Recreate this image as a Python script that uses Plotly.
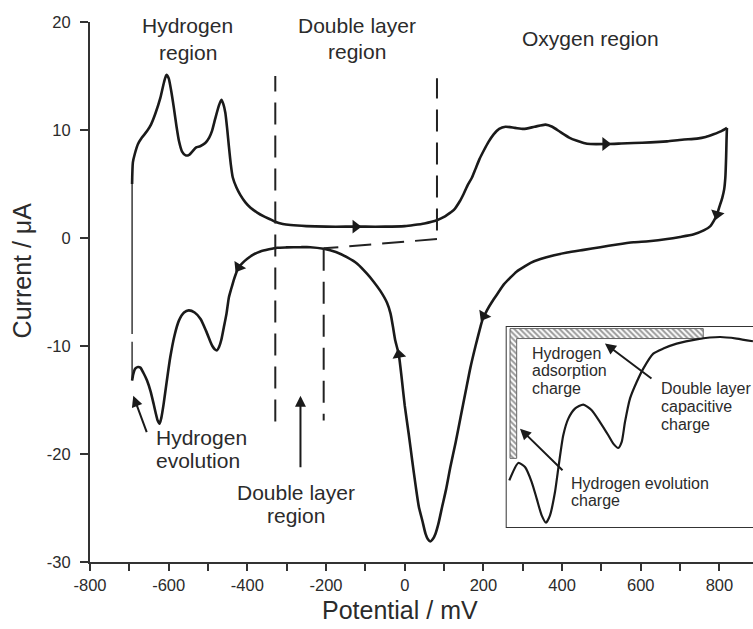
import plotly.graph_objects as go

# ---- Cyclic voltammogram of Pt (potential in mV, current in uA) ----
# anodic sweep: from the lower potential limit up to the upper limit
anodic_E = [-693, -691, -686, -678, -668, -655, -645, -634, -621, -612, -606, -600,
            -594, -587, -580, -574, -566, -557, -548, -540, -530, -520, -507, -497,
            -490, -482, -472, -466, -461, -456, -451, -447, -442, -437, -428, -418,
            -405, -392, -375, -358, -340, -329, -310, -290, -250, -200, -150, -100,
            -50, 0, 23, 50, 82, 100, 116, 125, 140, 150, 160, 171, 180, 190, 201, 213,
            226, 240, 256, 280, 302, 330, 358, 375, 396, 418, 438, 455, 472, 514, 550,
            582, 625, 667, 705, 743, 765, 785, 805, 819]
anodic_I = [5.0, 7.0, 7.8, 8.7, 9.3, 9.9, 10.5, 11.5, 13.0, 14.4, 15.1, 14.8,
            13.7, 12.1, 10.3, 9.0, 8.0, 7.65, 7.7, 8.0, 8.4, 8.5, 8.8, 9.3,
            9.9, 11.0, 12.3, 12.8, 12.4, 11.6, 10.0, 8.5, 6.8, 5.6, 4.7, 4.0,
            3.3, 2.8, 2.35, 2.0, 1.7, 1.5, 1.3, 1.2, 1.1, 1.05, 1.05, 1.05,
            1.05, 1.1, 1.2, 1.35, 1.65, 1.95, 2.35, 2.6, 3.4, 4.1, 4.9, 5.6, 6.4, 7.3, 8.1, 8.9,
            9.6, 10.1, 10.3, 10.2, 10.1, 10.3, 10.5, 10.3, 9.8, 9.3, 9.0, 8.8, 8.7, 8.7, 8.75,
            8.8, 8.85, 8.95, 9.1, 9.2, 9.35, 9.6, 9.9, 10.2]

# cathodic sweep: from the upper limit back down to the lower limit
cathodic_E = [819, 818, 817, 815, 812, 807, 800, 794, 786, 777, 760, 735, 700, 667,
              620, 582, 540, 497, 455, 413, 380, 345, 320, 302, 285, 269, 252, 235,
              222, 209, 197, 192, 180, 167, 155, 142, 129, 116, 105, 95, 86, 78, 71,
              65, 59, 53, 45, 36, 28, 19, 10, 0, -7, -15, -24, -30, -36, -45, -62,
              -80, -96, -120, -146, -175, -206, -240, -265, -300, -324, -345, -367,
              -385, -401, -412, -422, -430, -435, -441, -447, -453, -460, -466, -472,
              -477, -483, -489, -494, -505, -519, -534, -549, -561, -574, -585, -596,
              -605, -613, -619, -623, -628, -633, -638, -646, -655, -664, -672, -678,
              -685, -690, -693]
cathodic_I = [10.2, 9.0, 7.5, 5.6, 4.5, 3.7, 2.9, 2.2, 1.6, 1.1, 0.7, 0.35, 0.1, -0.1,
              -0.3, -0.4, -0.6, -0.85, -1.1, -1.35, -1.6, -1.95, -2.3, -2.7, -3.1, -3.65, -4.3, -5.2,
              -5.9, -6.7, -7.65, -8.3, -10.0, -12.0, -14.2, -16.6, -19.0, -21.2, -23.3, -24.9, -26.4, -27.4, -27.9,
              -28.1, -27.9, -27.4, -26.2, -24.9, -23.0, -20.6, -18.1, -15.5, -13.2, -10.8, -9.5, -8.2, -7.0, -6.0, -4.9,
              -4.0, -3.3, -2.4, -1.8, -1.3, -1.0, -0.85, -0.85, -0.87, -0.9, -1.05, -1.25,
              -1.55, -1.95, -2.3, -2.7, -3.4, -3.95, -4.7, -5.5, -7.0, -8.3, -9.4, -10.1,
              -10.4, -10.3, -10.0, -9.6, -8.6, -7.5, -6.9, -6.7, -6.9, -7.65, -9.0, -11.05,
              -13.3, -15.4, -16.7, -17.2, -16.9, -16.2, -15.4, -14.2, -13.2, -12.5, -12.0, -11.95,
              -12.1, -12.6, -13.2]

# potential step at the lower limit that closes the loop
limit_E = [-693, -693, None, -693, -693]
limit_I = [-13.2, -9.6, None, -8.9, 5.0]

# sweep-direction arrowheads along the curve
arrow_E = [-125, 510, 794, 201, -15, -422]
arrow_I = [1.05, 8.7, 2.2, -7.2, -10.8, -2.7]
arrow_angle = [90, 90, 195, 210, 350, 212]

# double-layer region boundaries and capacitive baseline
dl_start_E, dl_end_E, dl_base_E = -329, 82, -206
dl_line_I = [-17.0, 15.0]
dl_end_I = [0.7, 14.8]
baseline_E = [82, -206]
baseline_I = [-0.1, -0.96]
dl_base_I = [-1.0, -16.9]

# axis ticks
x_ticks = [-800, -600, -400, -200, 0, 200, 400, 600, 800]
y_ticks = [-30, -20, -10, 0, 10, 20]

# ---- inset: magnified hydrogen region of the cathodic sweep ----
inset_E = [-691, -673.7, -660.8, -647.9, -638.3, -628.7, -620.4, -612.7, -603.1,
           -596.8, -587.2, -577.5, -564.7, -548.7, -532.5, -516.6, -500.6, -491,
           -481.4, -474.8, -468.5, -458.9, -446, -433.3, -414.1, -394.8, -369.1,
           -330.6, -285.8, -253.7, -222.4]
inset_I = [-13.55, -11.97, -12.34, -13.70, -15.21, -16.73, -17.39, -16.73, -14.61,
           -12.48, -9.45, -7.94, -7.03, -6.66, -7.18, -8.25, -9.45, -10.21,
           -10.61, -10.06, -8.25, -6.12, -4.61, -3.39, -2.03, -1.57, -1.12,
           -0.73, -0.52, -0.66, -0.91]

# hatched charge areas (L-shaped: adsorption along the top, evolution along the side)
charge_E = [-689.6, -318, -318, -676.8, -676.8, -689.6, -689.6]
charge_I = [0.245, 0.245, -0.66, -0.66, -11.55, -11.55, 0.245]

FONT = "Arial, Liberation Sans, sans-serif"
INK = "#1a1a1a"
TXT = "#2b2b2b"


def tick_text(values):
    # plain hyphen-minus for negative numbers
    return [str(v) for v in values]


fig = go.Figure()

fig.add_trace(go.Scatter(x=limit_E, y=limit_I, mode="lines",
                         line=dict(color=INK, width=1.3), hoverinfo="skip"))
fig.add_trace(go.Scatter(x=anodic_E, y=anodic_I, mode="lines",
                         line=dict(color=INK, width=2.6, shape="spline", smoothing=0.6)))
fig.add_trace(go.Scatter(x=cathodic_E, y=cathodic_I, mode="lines",
                         line=dict(color=INK, width=2.6, shape="spline", smoothing=0.6)))
fig.add_trace(go.Scatter(x=arrow_E, y=arrow_I, mode="markers",
                         marker=dict(symbol="triangle-up", size=12, color=INK,
                                     angle=arrow_angle, line=dict(width=0))))

dash = dict(color="#222", width=2, dash="22px,11px")
fig.add_trace(go.Scatter(x=[dl_start_E, dl_start_E], y=dl_line_I, mode="lines", line=dash))
fig.add_trace(go.Scatter(x=[dl_end_E, dl_end_E], y=dl_end_I, mode="lines", line=dash))
fig.add_trace(go.Scatter(x=baseline_E, y=baseline_I, mode="lines", line=dash))
fig.add_trace(go.Scatter(x=[dl_base_E, dl_base_E], y=dl_base_I, mode="lines", line=dash))

# inset traces
fig.add_trace(go.Scatter(x=charge_E, y=charge_I, mode="lines", fill="toself",
                         xaxis="x2", yaxis="y2",
                         line=dict(color="#666", width=1),
                         fillcolor="white",
                         fillpattern=dict(shape="\\", fgcolor="#333", bgcolor="white",
                                          size=4, solidity=0.5)))
fig.add_trace(go.Scatter(x=inset_E, y=inset_I, mode="lines", xaxis="x2", yaxis="y2",
                         line=dict(color=INK, width=2.2, shape="spline", smoothing=0.6)))

# inset frame (double rule)
fig.add_shape(type="rect", xref="paper", yref="paper",
              x0=0.6285, x1=1.05, y0=0.0648, y1=0.4352,
              line=dict(color="#333", width=2), fillcolor="rgba(0,0,0,0)", layer="below")
fig.add_shape(type="rect", xref="paper", yref="paper",
              x0=0.6315, x1=1.05, y0=0.0685, y1=0.4315,
              line=dict(color="#888", width=1), fillcolor="rgba(0,0,0,0)", layer="below")


def label(lines, x, y, size, spacing, xanchor="center", xref="x", yref="y"):
    for i, t in enumerate(lines):
        fig.add_annotation(x=x, y=y, xref=xref, yref=yref, text=t, showarrow=False,
                           xanchor=xanchor, yanchor="middle", yshift=-i * spacing,
                           font=dict(family=FONT, size=size, color=TXT))


label(["Hydrogen", "region"], -552, 19.66, 21, 26.5)
label(["Double layer", "region"], -121.5, 19.66, 21, 25.5)
label(["Oxygen region"], 472, 18.45, 21, 0)
label(["Hydrogen", "evolution"], -638.6, -18.46, 21, 23.3, xanchor="left")
label(["Double layer", "region"], -275.5, -23.56, 21, 23.3)

label(["Hydrogen", "adsorption", "charge"], -651.2, -2.0, 16, 17.5,
      xanchor="left", xref="x2", yref="y2")
label(["Double layer", "capacitive", "charge"], -402.5, -5.18, 16, 18,
      xanchor="left", xref="x2", yref="y2")
label(["Hydrogen evolution", "charge"], -575.6, -13.8, 16, 17.3,
      xanchor="left", xref="x2", yref="y2")

arrow_style = dict(showarrow=True, arrowhead=2, arrowsize=1.1, arrowwidth=2,
                   arrowcolor=INK, text="")
fig.add_annotation(x=-690, y=-14.6, ax=14, ay=38, **arrow_style)
fig.add_annotation(x=-265, y=-14.6, ax=0, ay=73, **arrow_style)
fig.add_annotation(x=-670.4, y=-8.85, xref="x2", yref="y2", ax=44, ay=43, **arrow_style)
fig.add_annotation(x=-507, y=-1.12, xref="x2", yref="y2", ax=48, ay=36, **arrow_style)

# axis titles
fig.add_annotation(x=-11, y=-0.0894, xref="x", yref="paper", text="Potential / mV",
                   showarrow=False, xanchor="center", yanchor="middle",
                   font=dict(family=FONT, size=25, color=TXT))
fig.add_annotation(x=-0.1026, y=-3.0, xref="paper", yref="y", text="Current / \u03bcA",
                   textangle=-90, showarrow=False, xanchor="center", yanchor="middle",
                   font=dict(family=FONT, size=25, color=TXT))

fig.update_layout(
    width=753, height=629,
    margin=dict(l=90, r=0, t=22, b=67),
    paper_bgcolor="white", plot_bgcolor="white",
    showlegend=False,
    font=dict(family=FONT, color=TXT),
    xaxis=dict(range=[-800, 885.3], tickmode="array", tickvals=x_ticks,
               ticktext=tick_text(x_ticks),
               ticks="outside", ticklen=7, tickwidth=1.5, tickcolor="#333",
               showline=True, linecolor="#333", linewidth=2,
               showgrid=False, zeroline=False,
               minor=dict(tickmode="linear", tick0=-800, dtick=100, ticks="outside",
                          ticklen=7, tickwidth=1.5, tickcolor="#333", showgrid=False),
               tickfont=dict(family=FONT, size=16.5, color=TXT)),
    yaxis=dict(range=[-30, 20], tickmode="array", tickvals=y_ticks,
               ticktext=tick_text(y_ticks),
               ticks="outside", ticklen=8, tickwidth=1.5, tickcolor="#333",
               showline=True, linecolor="#333", linewidth=2,
               showgrid=False, zeroline=False, ticklabelstandoff=6,
               tickfont=dict(family=FONT, size=16.5, color=TXT)),
    xaxis2=dict(domain=[0.6285, 1.0], range=[-696, -222.3], visible=False,
                anchor="y2"),
    yaxis2=dict(domain=[0.0648, 0.4352], range=[-17.79, 0.39], visible=False,
                anchor="x2"),
)

fig.write_html("out.html")
